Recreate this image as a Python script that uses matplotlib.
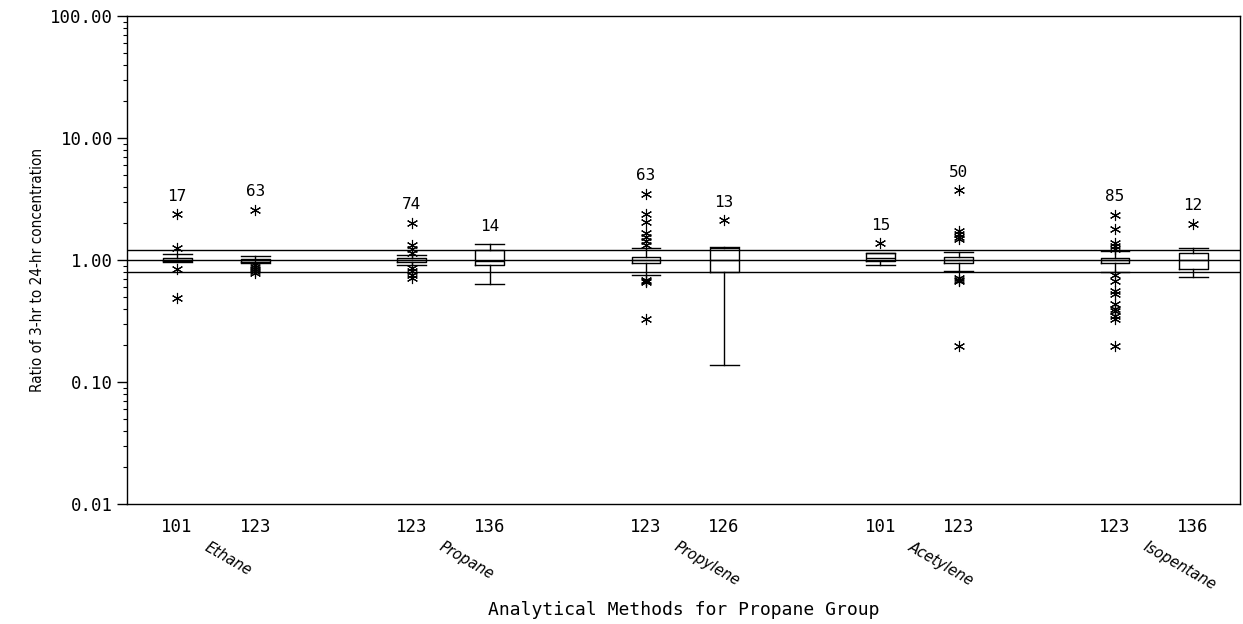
import matplotlib
matplotlib.use("Agg")
import matplotlib.pyplot as plt
import matplotlib.transforms as mtransforms
from matplotlib.ticker import LogLocator, FixedLocator, NullFormatter

# ---- data ----
methods = ['101', '123', '123', '136', '123', '126', '101', '123', '123', '136']
compounds = ['Ethane', 'Propane', 'Propylene', 'Acetylene', 'Isopentane']
counts = [17, 63, 74, 14, 63, 13, 15, 50, 85, 12]
q1 = [0.98, 0.97, 0.96, 0.905, 0.94, 0.80, 0.98, 0.94, 0.94, 0.85]
med = [1.00, 1.00, 1.00, 0.98, 1.00, 1.00, 1.04, 1.00, 1.00, 1.00]
q3 = [1.03, 1.02, 1.03, 1.20, 1.06, 1.25, 1.135, 1.06, 1.03, 1.135]
whislo = [0.97, 0.94, 0.905, 0.63, 0.75, 0.138, 0.91, 0.81, 0.80, 0.72]
whishi = [1.13, 1.08, 1.09, 1.35, 1.25, 1.27, 1.15, 1.16, 1.19, 1.26]
fliers = [
    [2.37, 1.25, 0.85, 0.486],
    [2.57, 0.91, 0.88, 0.85, 0.82, 0.78],
    [2.01, 1.33, 1.22, 1.15, 0.865, 0.81, 0.76, 0.71],
    [],
    [3.5, 2.37, 2.05, 1.67, 1.54, 1.43, 1.33, 0.69, 0.67, 0.66, 0.326],
    [2.11],
    [1.37],
    [3.72, 1.73, 1.62, 1.55, 1.48, 0.71, 0.68, 0.67, 0.197],
    [2.34, 1.78, 1.39, 1.30, 1.22, 0.76, 0.67, 0.56, 0.53, 0.44, 0.40, 0.38, 0.35, 0.33, 0.197],
    [1.98],
]
ref_lines = [1.2, 1.0, 0.8]
yticks = [0.01, 0.1, 1, 10, 100]

positions = [1, 2, 4, 5, 7, 8, 10, 11, 13, 14]

MONO = 'DejaVu Sans Mono'

fig = plt.figure(figsize=(12.43, 6.24), dpi=100)
ax = fig.add_axes([0.1022, 0.1923, 0.8954, 0.782])

stats = []
for i in range(len(methods)):
    stats.append(dict(med=med[i], q1=q1[i], q3=q3[i], whislo=whislo[i],
                      whishi=whishi[i], fliers=fliers[i], label=methods[i]))

lw = 1.0
ax.bxp(stats, positions=positions, widths=0.37, showfliers=True,
       boxprops=dict(color='black', linewidth=lw),
       medianprops=dict(color='black', linewidth=lw),
       whiskerprops=dict(color='black', linewidth=lw),
       capprops=dict(color='black', linewidth=lw),
       capwidths=0.37,
       flierprops=dict(marker=(6, 2, 0), markersize=8, markeredgecolor='black',
                       markerfacecolor='black', markeredgewidth=0.8, linestyle='none'))

for v in ref_lines:
    ax.axhline(v, color='black', linewidth=1.0, zorder=0.5)

ax.set_yscale('log')
ax.set_ylim(0.01, 100)
ax.set_xlim(0.36, 14.6)

ax.yaxis.set_major_locator(FixedLocator(yticks))
ax.set_yticklabels([f"{t:.2f}" for t in yticks], fontsize=12.5, family=MONO)
ax.yaxis.set_minor_locator(LogLocator(base=10, subs=range(2, 10)))
ax.yaxis.set_minor_formatter(NullFormatter())
ax.tick_params(axis='y', which='major', length=7, width=1, direction='out', pad=3)
ax.tick_params(axis='y', which='minor', length=3, width=0.8, direction='out')

ax.set_xticks(positions)
ax.set_xticklabels(methods, fontsize=12.5, family=MONO)
ax.tick_params(axis='x', length=0, pad=10)

for sp in ax.spines.values():
    sp.set_linewidth(1.0)
    sp.set_color('black')

# counts above each group
for i, p in enumerate(positions):
    top = max([whishi[i]] + fliers[i])
    ax.annotate(str(counts[i]), xy=(p, top), xytext=(0, 13), textcoords='offset points',
                ha='center', va='center', fontsize=11.5, family=MONO)

# compound labels (rotated, italic)
trans = mtransforms.blended_transform_factory(ax.transData, ax.transAxes)
for g, name in enumerate(compounds):
    x = positions[2 * g + 1] - 0.58
    ax.text(x, -0.072, name, transform=trans, rotation=-30, rotation_mode='anchor',
            ha='left', va='top', fontsize=10.5, style='italic')

fig.text(0.5497, 1 - 610 / 624, 'Analytical Methods for Propane Group',
         ha='center', va='center', fontsize=13, family=MONO)

yl = ax.set_ylabel('Ratio of 3-hr to 24-hr concentration', fontsize=11,
                   family=['Liberation Sans Narrow', 'DejaVu Sans'], fontstretch='condensed')
yl.set_va('center')
ax.yaxis.set_label_coords(-0.08, 0.48)

fig.savefig('out.png', dpi=100)
